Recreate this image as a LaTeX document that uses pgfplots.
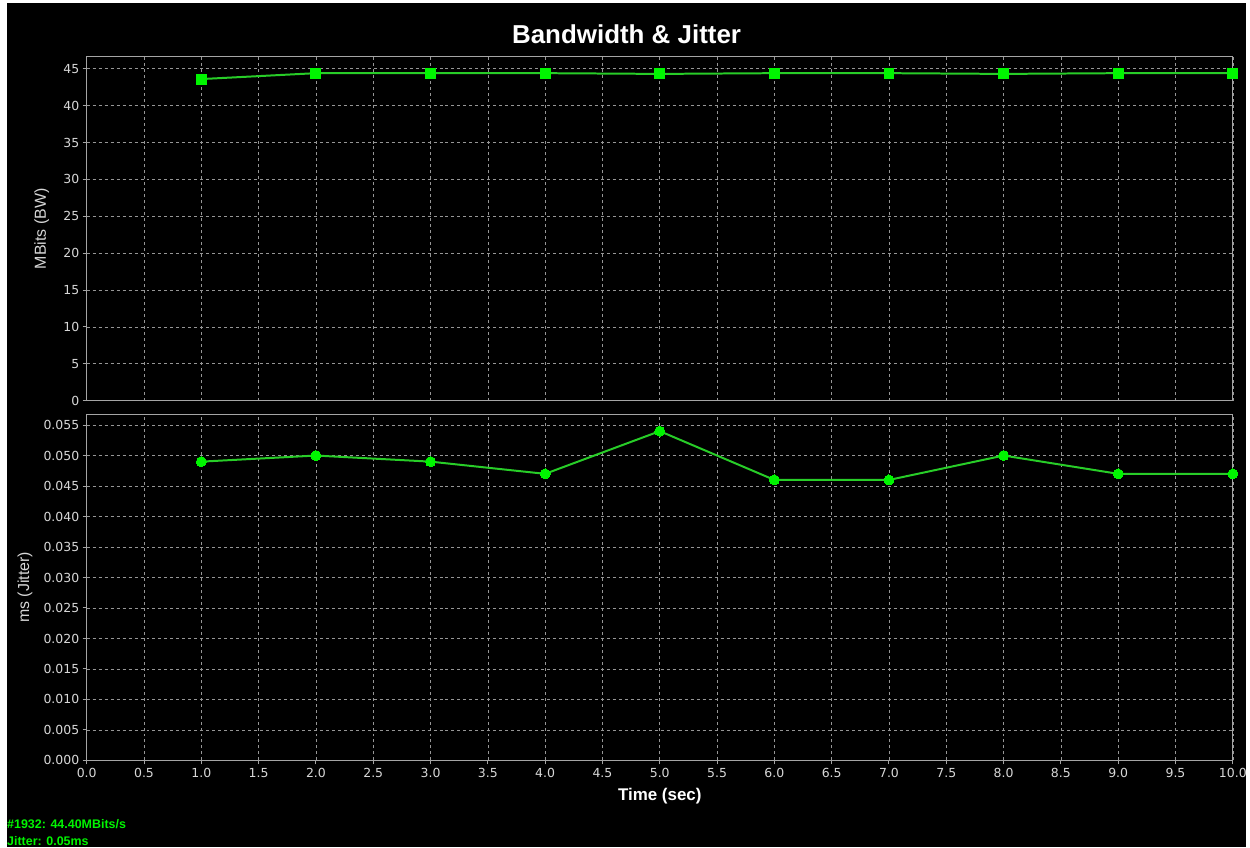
\documentclass[border=0pt]{standalone}
\usepackage{pgfplots}
\pgfplotsset{compat=1.18}
\usepackage{fontspec}
\setmainfont{Liberation Sans}
\newfontfamily\tickfont{DejaVu Sans}

\definecolor{markgreen}{RGB}{0,245,0}
\definecolor{linegreen}{RGB}{40,205,40}
\definecolor{framegray}{RGB}{165,165,165}
\definecolor{gridgray}{RGB}{150,150,150}
\definecolor{ticktext}{RGB}{215,215,215}

% Bandwidth per second (MBits/s)
\pgfplotstableread{
t   bw
1   43.6
2   44.4
3   44.4
4   44.4
5   44.3
6   44.4
7   44.4
8   44.3
9   44.4
10  44.4
}\bwdata

% Jitter per second (ms)
\pgfplotstableread{
t   jit
1   0.049
2   0.050
3   0.049
4   0.047
5   0.054
6   0.046
7   0.046
8   0.050
9   0.047
10  0.047
}\jitdata

\pgfplotsset{
  panel/.style={
    scale only axis,
    width=1150pt,
    xmin=0, xmax=10,
    xtick={0,0.5,1,1.5,2,2.5,3,3.5,4,4.5,5,5.5,6,6.5,7,7.5,8,8.5,9,9.5,10},
    axis line style={framegray, line width=1pt},
    grid=major,
    major grid style={gridgray, dash pattern=on 3pt off 3pt, line width=0.6pt},
    tick align=outside,
    major tick length=4pt,
    tick style={framegray, line width=1pt},
    xtick pos=bottom, ytick pos=left,
    ticklabel style={font=\tickfont\fontsize{12.5}{13}\selectfont, text=ticktext},
    /pgf/number format/assume math mode=true,
    every axis y label/.style={at={([xshift=-#1]axis description cs:0,0.5)},
      rotate=90, anchor=center,
      font=\fontsize{16}{16}\selectfont, text=ticktext},
  },
  series/.style={linegreen, line width=2pt,
    mark options={fill=markgreen, draw=markgreen, line width=0pt}, mark size=5pt},
}

\begin{document}
\begin{tikzpicture}[x=1pt, y=1pt]
  % canvas
  \fill[white] (0,0) rectangle (1250,850);
  \fill[black] (7,0) rectangle (1250,847);

  % bandwidth panel
  \begin{axis}[panel=45pt,
    at={(87pt,448pt)}, anchor=south west,
    height=345pt,
    ymin=0, ymax=46.62,
    ytick={0,5,...,45},
    xticklabels={},
    major x tick style={draw=none},
    ylabel={MBits (BW)},
  ]
    \addplot[series, mark=square*] table[x=t, y=bw] {\bwdata};
  \end{axis}

  % jitter panel
  \begin{axis}[panel=62pt,
    at={(87pt,87pt)}, anchor=south west,
    height=347.5pt,
    ymin=0, ymax=0.0568,
    ytick={0,0.005,0.01,0.015,0.02,0.025,0.03,0.035,0.04,0.045,0.05,0.055},
    yticklabel style={/pgf/number format/.cd, fixed, fixed zerofill, precision=3},
    xticklabel style={/pgf/number format/.cd, fixed, fixed zerofill, precision=1},
    scaled y ticks=false,
    ylabel={ms (Jitter)},
  ]
    \addplot[series, mark=*] table[x=t, y=jit] {\jitdata};
  \end{axis}

  % titles and status lines
  \node[anchor=base, text=white, font=\bfseries\fontsize{26}{26}\selectfont]
    at (628.7,806) {Bandwidth \& Jitter};
  \node[anchor=base, text=white, font=\bfseries\fontsize{17}{17}\selectfont]
    at (662,47) {Time (sec)};
  \node[anchor=base west, inner sep=0pt, text=markgreen, font=\bfseries\fontsize{12.5}{13}\selectfont]
    at (7,19) {\#1932: 44.40MBits/s};
  \node[anchor=base west, inner sep=0pt, text=markgreen, font=\bfseries\fontsize{12.5}{13}\selectfont]
    at (7,2) {Jitter: 0.05ms};
\end{tikzpicture}
\end{document}
